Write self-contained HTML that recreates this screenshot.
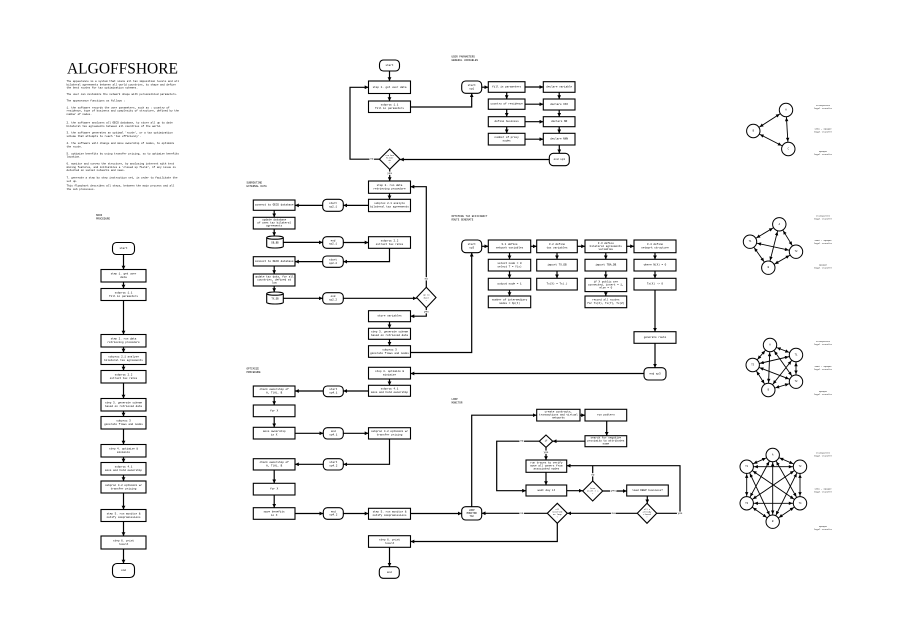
<!DOCTYPE html>
<html><head><meta charset="utf-8"><style>
html,body{margin:0;padding:0;background:#fff;}
svg{display:block}
svg text{font-family:"Liberation Mono","DejaVu Sans Mono",monospace;fill:#000}
</style></head><body>
<svg xmlns="http://www.w3.org/2000/svg" width="899" height="636" viewBox="0 0 899 636">
<defs>
<marker id="a" markerUnits="userSpaceOnUse" viewBox="0 0 10 10" refX="10" refY="5" markerWidth="3.8" markerHeight="3.8" orient="auto"><path d="M0,0L10,5L0,10z" fill="#000"/></marker>
<marker id="g" markerUnits="userSpaceOnUse" viewBox="-12 -3 12 6" refX="0" refY="0" markerWidth="12" markerHeight="6" orient="auto-start-reverse"><path d="M-11.2,-1.7L-7.4,0L-11.2,1.7z" fill="#000"/></marker>
</defs>
<rect width="899" height="636" fill="#fff"/>

<!-- Title & description -->
<text x="67" y="73.5" font-size="16" style="font-family:'Liberation Serif',serif" textLength="111" lengthAdjust="spacingAndGlyphs">ALGOFFSHORE</text>
<g font-size="2.65" dominant-baseline="central">
<text x="66.5" y="81.5">The appearance is a system that scans all tax imposition levels and all</text>
<text x="66.5" y="84.8">bilateral agreements between all world countries, to shape and define</text>
<text x="66.5" y="88.1">the best routes for tax optimization schemes.</text>
<text x="66.5" y="94.5">The user can customize the network shape with personalized parameters.</text>
<text x="66.5" y="101">The appearance functions as follows :</text>
<text x="66.5" y="107.8">1. the software records the user parameters, such as : country of</text>
<text x="66.5" y="111.1">residence, type of business and complexity of structure, defined by the</text>
<text x="66.5" y="114.4">number of nodes.</text>
<text x="66.5" y="123">2. the software analyzes all OECD database, to store all up to date</text>
<text x="66.5" y="126.3">bilateral tax agreements between all countries of the world.</text>
<text x="66.5" y="133.2">3. the software generates an optimal 'route', or a tax optimization</text>
<text x="66.5" y="136.5">scheme that attempts to reach 'tax efficiency'.</text>
<text x="66.5" y="143.7">4. the software will change and move ownership of nodes, to optimize</text>
<text x="66.5" y="147">the route.</text>
<text x="66.5" y="153.8">5. optimize benefits by using transfer pricing, so to optimize benefits</text>
<text x="66.5" y="157.1">location.</text>
<text x="66.5" y="164">6. monitor and survey the structure, by analyzing internet with text</text>
<text x="66.5" y="167.3">mining features, and initializes a 'closed up field', if any issue is</text>
<text x="66.5" y="170.6">detected on social networks and news.</text>
<text x="66.5" y="178">7. generate a step by step instruction set, in order to facilitate the</text>
<text x="66.5" y="181.3">set up.</text>
<text x="66.5" y="186">This flowchart describes all steps, between the main process and all</text>
<text x="66.5" y="189.3">the sub processes.</text>
</g>

<!-- Section headings -->
<g font-size="2.6" dominant-baseline="central">
<text x="96" y="215.5">MAIN</text><text x="96" y="218.8">PROCEDURE</text>
<text x="246.5" y="183">SUBROUTINE</text><text x="246.5" y="186.3">EXTERNAL DATA</text>
<text x="246.5" y="369">OPTIMIZE</text><text x="246.5" y="372.3">PROCEDURE</text>
<text x="451.5" y="57">USER PARAMETERS</text><text x="451.5" y="60.3">GENERAL VARIABLES</text>
<text x="451.5" y="216.5">OPTIMIZE TAX EFFICIENCY</text><text x="451.5" y="219.8">ROUTE GENERATE</text>
<text x="451.5" y="399.5">LOOP</text><text x="451.5" y="402.8">MONITOR</text>
</g>

<!-- Connectors -->
<g fill="none" stroke="#000" stroke-width="1.2" marker-end="url(#a)">
<path d="M123.5 254.5V269.5"/>
<path d="M123.5 282V288.5"/>
<path d="M123.5 300.5V334.5"/>
<path d="M123.5 347V352.5"/>
<path d="M123.5 364.5V370.5"/>
<path d="M123.5 383V398.5"/>
<path d="M123.5 411V416.5"/>
<path d="M123.5 429V444.5"/>
<path d="M123.5 457V462.5"/>
<path d="M123.5 475V481"/>
<path d="M123.5 493V509.5"/>
<path d="M123.5 521.5V536"/>
<path d="M123.5 549V563.5"/>
<path d="M389.5 71V81"/>
<path d="M389.5 93.5V101"/>
<path d="M410.5 107H471.7V93.3"/>
<path d="M379.4 159.2H350V87.3H368.5"/>
<path d="M549.3 159.5H400"/>
<path d="M389.7 169.4V181"/>
<path d="M389.5 193.3V199.3"/>
<path d="M368.5 205.4H343.3"/>
<path d="M322.7 205.4H295"/>
<path d="M274.2 210.3V217.3"/>
<path d="M274.2 229V236"/>
<path d="M283.3 242.4H322.7"/>
<path d="M343.3 242.5H368.5"/>
<path d="M389.5 248.3V261.6H343.3"/>
<path d="M322.7 261.6H295"/>
<path d="M274.2 266V274"/>
<path d="M274.2 286V292"/>
<path d="M283.3 298.3H322.7"/>
<path d="M343.3 298.3H416.6"/>
<path d="M426.3 287.3V186.7H410.5"/>
<path d="M426.3 307.7V316.2H410.5"/>
<path d="M389.5 321.7V328.3"/>
<path d="M389.5 339.3V345.7"/>
<path d="M410.5 352.5H471.7V252.7"/>
<path d="M644 373.5H410.5"/>
<path d="M389.5 379V385.3"/>
<path d="M368.5 391H343.3"/>
<path d="M323.3 391H295"/>
<path d="M274.2 396.7V405"/>
<path d="M274.2 416.7V427.3"/>
<path d="M295 433.3H323.3"/>
<path d="M343.3 433.3H368.5"/>
<path d="M389.5 439V464.3H343.3"/>
<path d="M323.3 464.3H295"/>
<path d="M274.2 470V483.3"/>
<path d="M274.2 495V507.7"/>
<path d="M295 513.5H323.3"/>
<path d="M343.3 513.5H368.5"/>
<path d="M410.5 513.5H461.7"/>
<path d="M557.3 523.3V541.5H410.5"/>
<path d="M389.5 547.3V566.7"/>
<path d="M481.7 87.2H488.3"/>
<path d="M525 87H543.3"/>
<path d="M506.7 92.3V99"/>
<path d="M525 104.2H543.3"/>
<path d="M559.2 92.3V99"/>
<path d="M506.7 109.3V116.7"/>
<path d="M525 121.7H543.3"/>
<path d="M559.2 110V116.7"/>
<path d="M506.7 126.7V133.3"/>
<path d="M525 139.2H543.3"/>
<path d="M559.2 126.7V133.3"/>
<path d="M559.3 145V153.3"/>
<path d="M481.7 246.3H488.3"/>
<path d="M530.7 246.3H536.7"/>
<path d="M577.3 246.3H585"/>
<path d="M626.7 246.3H634"/>
<path d="M509.5 252.7V259.3"/>
<path d="M509.5 271V278.3"/>
<path d="M509.5 290V296"/>
<path d="M557 252.7V259.3"/>
<path d="M557 271V278.3"/>
<path d="M605.8 252.7V259.3"/>
<path d="M605.8 271V278.3"/>
<path d="M605.8 291.6V296"/>
<path d="M655 252.7V259.3"/>
<path d="M655 271V278.3"/>
<path d="M655 290V331.7"/>
<path d="M655 343.3V367.7"/>
<path d="M471.7 506.7V415.2H536.7"/>
<path d="M580 415.2H585"/>
<path d="M606.7 421V435.7"/>
<path d="M585 441.2H552.7"/>
<path d="M539.3 441.2H496.7V490.7H526"/>
<path d="M546 447.4V460"/>
<path d="M546 472.3V485"/>
<path d="M566.7 490.7H582.7"/>
<path d="M656.7 513.3H680V465.7H566.7"/>
<path d="M602.7 491H626.7"/>
<path d="M647.3 496V503.3"/>
<path d="M637.3 513.3H567.3"/>
<path d="M547.3 513.3H481.7"/>
</g>
<g fill="none" stroke="#000" stroke-width="1.2">
<path d="M592.7 481V465.7"/>
</g>

<!-- Shapes -->
<g fill="#fff" stroke="#000" stroke-width="1.1">
<rect x="112.5" y="242.5" width="22" height="12" rx="4"/>
<rect x="101" y="269.5" width="45" height="12.5"/>
<rect x="101" y="288.5" width="45" height="12"/>
<rect x="101" y="334.5" width="45" height="12.5"/>
<rect x="101" y="352.5" width="45" height="12"/>
<rect x="101" y="370.5" width="45" height="12.5"/>
<rect x="101" y="398.5" width="45" height="12.5"/>
<rect x="101" y="416.5" width="45" height="12.5"/>
<rect x="101" y="444.5" width="45" height="12.5"/>
<rect x="101" y="462.5" width="45" height="12.5"/>
<rect x="101" y="481" width="45" height="12"/>
<rect x="101" y="509.5" width="45" height="12"/>
<rect x="101" y="536" width="45" height="13"/>
<rect x="112.5" y="563.5" width="22" height="14" rx="4.5"/>
<rect x="379.5" y="60" width="20" height="11" rx="4"/>
<rect x="368.5" y="81" width="42" height="12.5"/>
<rect x="368.5" y="101" width="42" height="11.5"/>
<polygon points="389.7,149 400,159.2 389.7,169.4 379.4,159.2"/>
<rect x="368.5" y="181" width="42" height="12.3"/>
<rect x="368.5" y="199.3" width="42" height="12.3"/>
<rect x="368.5" y="236.7" width="42" height="11.6"/>
<polygon points="426.3,287.3 436,297.5 426.3,307.7 416.6,297.5"/>
<rect x="368.5" y="310.7" width="42" height="11"/>
<rect x="368.5" y="328.3" width="42" height="11"/>
<rect x="368.5" y="345.7" width="42" height="11.6"/>
<rect x="368.5" y="367.3" width="42" height="11.7"/>
<rect x="368.5" y="385.3" width="42" height="11"/>
<rect x="368.5" y="427.7" width="42" height="11.3"/>
<rect x="368.5" y="508.3" width="42" height="11"/>
<rect x="368.5" y="535.7" width="42" height="11.6"/>
<rect x="379.3" y="566.7" width="20" height="11.6" rx="4"/>
<rect x="322.7" y="199.3" width="20.6" height="12" rx="4"/>
<rect x="322.7" y="236.7" width="20.6" height="11.6" rx="4"/>
<rect x="322.7" y="256" width="20.6" height="11.3" rx="4"/>
<rect x="322.7" y="292.7" width="20.6" height="11.3" rx="4"/>
<rect x="323.3" y="386" width="20" height="10.7" rx="4"/>
<rect x="323.3" y="427.7" width="20" height="11.3" rx="4"/>
<rect x="323.3" y="458.7" width="20" height="11.3" rx="4"/>
<rect x="323.3" y="507.7" width="20" height="11.6" rx="4"/>
<rect x="253.3" y="200" width="41.7" height="10.3"/>
<rect x="253.3" y="217.3" width="41.7" height="11.7"/>
<path d="M266.7 237.6V246.4A8.3 1.6 0 0 0 283.3 246.4V237.6A8.3 1.6 0 0 0 266.7 237.6A8.3 1.6 0 0 0 283.3 237.6"/>
<rect x="253.3" y="256.7" width="41.7" height="9.3"/>
<rect x="253.3" y="274" width="41.7" height="12"/>
<path d="M266.7 293.6V302.4A8.3 1.6 0 0 0 283.3 302.4V293.6A8.3 1.6 0 0 0 266.7 293.6A8.3 1.6 0 0 0 283.3 293.6"/>
<rect x="253.3" y="386" width="41.7" height="10.7"/>
<rect x="253.3" y="405" width="41.7" height="11.7"/>
<rect x="253.3" y="427.3" width="41.7" height="11.7"/>
<rect x="253.3" y="458.7" width="41.7" height="11.3"/>
<rect x="253.3" y="483.3" width="41.7" height="11.7"/>
<rect x="253.3" y="507.7" width="41.7" height="11.6"/>
<rect x="461.7" y="81" width="20" height="12.3" rx="4"/>
<rect x="488.3" y="81.7" width="36.7" height="10.6"/>
<rect x="543.3" y="81.7" width="31.7" height="10.6"/>
<rect x="488.3" y="99" width="36.7" height="10.3"/>
<rect x="543.3" y="99" width="31.7" height="11"/>
<rect x="488.3" y="116.7" width="36.7" height="10"/>
<rect x="543.3" y="116.7" width="31.7" height="10"/>
<rect x="488.3" y="133.3" width="36.7" height="11.7"/>
<rect x="543.3" y="133.3" width="31.7" height="11.7"/>
<rect x="549.3" y="153.3" width="20" height="12.4" rx="4"/>
<rect x="461.7" y="240" width="20" height="12.7" rx="4"/>
<rect x="488.3" y="240" width="42.4" height="12.7"/>
<rect x="536.7" y="240" width="40.6" height="12.7"/>
<rect x="585" y="240" width="41.7" height="12.7"/>
<rect x="634" y="240" width="42" height="12.7"/>
<rect x="488.3" y="259.3" width="42.4" height="11.7"/>
<rect x="488.3" y="278.3" width="42.4" height="11.7"/>
<rect x="488.3" y="296" width="42.4" height="11.7"/>
<rect x="536.7" y="259.3" width="40.6" height="11.7"/>
<rect x="536.7" y="278.3" width="40.6" height="11.7"/>
<rect x="585" y="259.3" width="41.7" height="11.7"/>
<rect x="585" y="278.3" width="41.7" height="13.3"/>
<rect x="585" y="296" width="41.7" height="11.7"/>
<rect x="634" y="259.3" width="42" height="11.7"/>
<rect x="634" y="278.3" width="42" height="11.7"/>
<rect x="634" y="331.7" width="42" height="11.6"/>
<rect x="644" y="367.7" width="22" height="12.3" rx="4"/>
<rect x="461.7" y="506.7" width="20" height="13.3" rx="4"/>
<rect x="536.7" y="409.3" width="43.3" height="11.7"/>
<rect x="585" y="409.3" width="41.7" height="11.7"/>
<rect x="585" y="435.7" width="41.7" height="11"/>
<polygon points="546,435 552.7,441.2 546,447.4 539.3,441.2"/>
<rect x="526" y="460" width="40.7" height="12.3"/>
<rect x="526" y="485" width="40.7" height="11"/>
<polygon points="592.7,481 602.7,491 592.7,501 582.7,491"/>
<rect x="626.7" y="485" width="41.6" height="11"/>
<polygon points="647,503.3 656.7,513.3 647,523.3 637.3,513.3"/>
<polygon points="557.3,503.3 567.3,513.3 557.3,523.3 547.3,513.3"/>
</g>

<!-- Box texts -->
<g font-size="2.7" text-anchor="middle" dominant-baseline="central">
<text x="123.5" y="248.5">start</text>
<text x="123.5" y="274">step 1. get user</text><text x="123.5" y="277.5">data</text>
<text x="123.5" y="292.75">subproc 1.1</text><text x="123.5" y="296.25">fill in parameters</text>
<text x="123.5" y="339">step 2. run data</text><text x="123.5" y="342.5">retrieving procedure</text>
<text x="123.5" y="356.75">subproc 2.1 analyze</text><text x="123.5" y="360.25">bilateral tax agreements</text>
<text x="123.5" y="375">subproc 2.2</text><text x="123.5" y="378.5">extract tax rates</text>
<text x="123.5" y="403">step 3. generate scheme</text><text x="123.5" y="406.5">based on retrieved data</text>
<text x="123.5" y="421">subproc 3</text><text x="123.5" y="424.5">generate flows and nodes</text>
<text x="123.5" y="449">step 4. optimize &amp;</text><text x="123.5" y="452.5">minimize</text>
<text x="123.5" y="467">subproc 4.1</text><text x="123.5" y="470.5">move and hold ownership</text>
<text x="123.5" y="485.25">subproc 4.2 optimize w/</text><text x="123.5" y="488.75">transfer pricing</text>
<text x="123.5" y="513.75">step 5. run monitor &amp;</text><text x="123.5" y="517.25">notify compromissions</text>
<text x="123.5" y="540.75">step 6. print</text><text x="123.5" y="544.25">result</text>
<text x="123.5" y="570.5">end</text>
<text x="389.5" y="65.5">start</text>
<text x="389.5" y="87.25">step 1. get user data</text>
<text x="389.5" y="105">subproc 1.1</text><text x="389.5" y="108.5">fill in parameters</text>
<text x="389.5" y="185.4">step 2. run data</text><text x="389.5" y="188.9">retrieving procedure</text>
<text x="389.5" y="203.7">subproc 2.1 analyze</text><text x="389.5" y="207.2">bilateral tax agreements</text>
<text x="389.5" y="240.75">subproc 2.2</text><text x="389.5" y="244.25">extract tax rates</text>
<text x="389.5" y="316.2">store variables</text>
<text x="389.5" y="332.05">step 3. generate scheme</text><text x="389.5" y="335.55">based on retrieved data</text>
<text x="389.5" y="349.75">subproc 3</text><text x="389.5" y="353.25">generate flows and nodes</text>
<text x="389.5" y="371.4">step 4. optimize &amp;</text><text x="389.5" y="374.9">minimize</text>
<text x="389.5" y="389.05">subproc 4.1</text><text x="389.5" y="392.55">move and hold ownership</text>
<text x="389.5" y="431.6">subproc 4.2 optimize w/</text><text x="389.5" y="435.1">transfer pricing</text>
<text x="389.5" y="512.05">step 5. run monitor &amp;</text><text x="389.5" y="515.55">notify compromissions</text>
<text x="389.5" y="539.75">step 6. print</text><text x="389.5" y="543.25">result</text>
<text x="389.3" y="572.5">end</text>
<text x="333" y="203.6">start</text><text x="333" y="207">sp2.1</text>
<text x="333" y="240.8">end</text><text x="333" y="244.2">sp2.1</text>
<text x="333" y="259.9">start</text><text x="333" y="263.3">sp2.2</text>
<text x="333" y="296.6">end</text><text x="333" y="300">sp2.2</text>
<text x="333.3" y="389.6">start</text><text x="333.3" y="393">sp4.1</text>
<text x="333.3" y="431.6">end</text><text x="333.3" y="435">sp4.1</text>
<text x="333.3" y="462.6">start</text><text x="333.3" y="466">sp4.2</text>
<text x="333.3" y="511.8">end</text><text x="333.3" y="515.2">sp4.2</text>
<text x="274.2" y="205.15">connect to OECD database</text>
<text x="274.2" y="220.2">update database</text><text x="274.2" y="223.15">of ones tax bilateral</text><text x="274.2" y="226.1">agreements</text>
<text x="275" y="243.2" font-size="2.4">DB_BB</text>
<text x="274.2" y="261.35">connect to OECD database</text>
<text x="274.2" y="277">update tax data, for all</text><text x="274.2" y="280">countries, defined at</text><text x="274.2" y="283">low</text>
<text x="275" y="299.2" font-size="2.4">TX_DB</text>
<text x="274.2" y="389.6">check ownership of</text><text x="274.2" y="393.1">A, T(A), B</text>
<text x="274.2" y="410.85">for X</text>
<text x="274.2" y="431.4">move ownership</text><text x="274.2" y="434.9">in X</text>
<text x="274.2" y="462.6">check ownership of</text><text x="274.2" y="466.1">A, T(A), B</text>
<text x="274.2" y="489.15">for X</text>
<text x="274.2" y="511.75">move benefits</text><text x="274.2" y="515.25">in X</text>
<text x="471.7" y="85.5">start</text><text x="471.7" y="88.9">sp1</text>
<text x="506.65" y="87">fill in parameters</text>
<text x="559.15" y="87">declare variable</text>
<text x="506.65" y="104.15">country of residence</text>
<text x="559.15" y="104.5">declare XXX</text>
<text x="506.65" y="121.7">define business</text>
<text x="559.15" y="121.7">declare NN</text>
<text x="506.65" y="137.4">number of proxy</text><text x="506.65" y="140.9">nodes</text>
<text x="559.15" y="139.15">declare NNN</text>
<text x="559.3" y="159.5">end sp1</text>
<text x="471.7" y="244.6">start</text><text x="471.7" y="248">sp3</text>
<text x="509.5" y="244.6">3.1 define</text><text x="509.5" y="248">network variables</text>
<text x="557" y="244.6">3.2 define</text><text x="557" y="248">tax variables</text>
<text x="605.8" y="243.3">3.3 define</text><text x="605.8" y="246.3">bilateral agreements</text><text x="605.8" y="249.3">variables</text>
<text x="655" y="244.6">3.4 define</text><text x="655" y="248">network structure</text>
<text x="509.5" y="263.4">select node = 0</text><text x="509.5" y="266.9">select T = Y(x)</text>
<text x="509.5" y="284.15">output node = 1</text>
<text x="509.5" y="300.1">number of intermediary</text><text x="509.5" y="303.6">nodes = Xp(t)</text>
<text x="557" y="265.15">import TX_DB</text>
<text x="557" y="284.15">Tx(X) = Tx(.)</text>
<text x="605.8" y="265.15">import TBA_DB</text>
<text x="605.8" y="281.95">if X public are</text><text x="605.8" y="284.95">connected, insert = 1,</text><text x="605.8" y="287.95">else = 0</text>
<text x="605.8" y="300.1">record all routes</text><text x="605.8" y="303.6">for Tx(X), Tx(Y), Tx(Z)</text>
<text x="655" y="265.15">where N(X) = 0</text>
<text x="655" y="284.15">Tx(X) -&gt; 0</text>
<text x="655" y="337.5">generate route</text>
<text x="655" y="373.85">end sp3</text>
<text x="471.7" y="510.3" font-size="2.4">LOOP</text><text x="471.7" y="513.3" font-size="2.4">MONITOR</text><text x="471.7" y="516.3" font-size="2.4">TAX</text>
<text x="558.35" y="412.2">create contracts,</text><text x="558.35" y="415.15">transactions and virtual</text><text x="558.35" y="418.1">networks</text>
<text x="605.85" y="415.15">run pattern</text>
<text x="605.85" y="438.2">search for negative</text><text x="605.85" y="441.2">proximity to attributes</text><text x="605.85" y="444.2">name</text>
<text x="546" y="441.2" font-size="2.3">if</text>
<text x="546.35" y="463.2">run traces to verify</text><text x="546.35" y="466.15">move all owners from</text><text x="546.35" y="469.1">associated nodes</text>
<text x="546.35" y="490.5">wait day it</text>
<text x="592.7" y="488.3" font-size="2.2">have</text><text x="592.7" y="491" font-size="2.2">still &gt; 1</text><text x="592.7" y="493.7" font-size="2.2">?</text>
<text x="647.5" y="490.5">load DEEP business?</text>
<text x="647" y="509.3" font-size="2.1">all X</text><text x="647" y="511.9" font-size="2.1">already</text><text x="647" y="514.5" font-size="2.1">closed</text><text x="647" y="517.1" font-size="2.1">?</text>
<text x="557.3" y="509.3" font-size="2.1">all</text><text x="557.3" y="511.9" font-size="2.1">notified</text><text x="557.3" y="514.5" font-size="2.1">no loop</text><text x="557.3" y="517.1" font-size="2.1">?</text>
<text x="389.7" y="155.3" font-size="2.1">run bus</text><text x="389.7" y="157.9" font-size="2.1">filter</text><text x="389.7" y="160.5" font-size="2.1">ok</text><text x="389.7" y="163.1" font-size="2.1">?</text>
<text x="426.3" y="295.2" font-size="2.2">up to</text><text x="426.3" y="297.9" font-size="2.2">date</text><text x="426.3" y="300.6" font-size="2.2">?</text>
</g>

<g font-size="2.7" text-anchor="middle" dominant-baseline="central" stroke="#fff" stroke-width="1.8" paint-order="stroke">
<text x="371.7" y="159.2">no</text>
<text x="389.7" y="173.7">yes</text>
<text x="426.3" y="279">no</text>
<text x="426.3" y="312">yes</text>
<text x="521.7" y="441.2">no</text>
<text x="546" y="452.5">yes</text>
<text x="592.7" y="475">no</text>
<text x="613.3" y="491">yes</text>
<text x="680" y="513.3">yes</text>
<text x="613.3" y="513.3">no</text>
<text x="521.7" y="513.3">no</text>
</g>

<!-- Graphs -->
<g stroke="#000" stroke-width="0.9" fill="none" marker-start="url(#g)" marker-end="url(#g)">
<line x1="786" y1="110" x2="753.3" y2="131"/>
<line x1="786" y1="110" x2="788.3" y2="149"/>
<line x1="753.3" y1="131" x2="788.3" y2="149"/>
<line x1="779.3" y1="224.3" x2="750" y2="241.7"/>
<line x1="779.3" y1="224.3" x2="796" y2="251.7"/>
<line x1="750" y1="241.7" x2="796" y2="251.7"/>
<line x1="779.3" y1="224.3" x2="768.3" y2="267.7"/>
<line x1="750" y1="241.7" x2="768.3" y2="267.7"/>
<line x1="796" y1="251.7" x2="768.3" y2="267.7"/>
<line x1="770" y1="345" x2="796" y2="355"/>
<line x1="770" y1="345" x2="752.7" y2="365"/>
<line x1="770" y1="345" x2="796" y2="381.7"/>
<line x1="770" y1="345" x2="768.3" y2="390"/>
<line x1="796" y1="355" x2="752.7" y2="365"/>
<line x1="796" y1="355" x2="796" y2="381.7"/>
<line x1="796" y1="355" x2="768.3" y2="390"/>
<line x1="752.7" y1="365" x2="796" y2="381.7"/>
<line x1="752.7" y1="365" x2="768.3" y2="390"/>
<line x1="796" y1="381.7" x2="768.3" y2="390"/>
<line x1="772.7" y1="455" x2="746.7" y2="466.7"/>
<line x1="772.7" y1="455" x2="800" y2="466.7"/>
<line x1="772.7" y1="455" x2="746.7" y2="503.3"/>
<line x1="772.7" y1="455" x2="800" y2="503.3"/>
<line x1="772.7" y1="455" x2="772.7" y2="521.7"/>
<line x1="746.7" y1="466.7" x2="800" y2="466.7"/>
<line x1="746.7" y1="466.7" x2="746.7" y2="503.3"/>
<line x1="746.7" y1="466.7" x2="800" y2="503.3"/>
<line x1="746.7" y1="466.7" x2="772.7" y2="521.7"/>
<line x1="800" y1="466.7" x2="746.7" y2="503.3"/>
<line x1="800" y1="466.7" x2="800" y2="503.3"/>
<line x1="800" y1="466.7" x2="772.7" y2="521.7"/>
<line x1="746.7" y1="503.3" x2="800" y2="503.3"/>
<line x1="746.7" y1="503.3" x2="772.7" y2="521.7"/>
<line x1="800" y1="503.3" x2="772.7" y2="521.7"/>
</g>
<g fill="#fff" stroke="#000" stroke-width="1">
<circle cx="786" cy="110" r="6.7"/><circle cx="753.3" cy="131" r="6.7"/><circle cx="788.3" cy="149" r="6.7"/>
<circle cx="779.3" cy="224.3" r="6.7"/><circle cx="750" cy="241.7" r="6.7"/><circle cx="796" cy="251.7" r="6.7"/><circle cx="768.3" cy="267.7" r="6.7"/>
<circle cx="770" cy="345" r="6.7"/><circle cx="796" cy="355" r="6.7"/><circle cx="752.7" cy="365" r="6.7"/><circle cx="796" cy="381.7" r="6.7"/><circle cx="768.3" cy="390" r="6.7"/>
<circle cx="772.7" cy="455" r="6.7"/><circle cx="746.7" cy="466.7" r="6.7"/><circle cx="800" cy="466.7" r="6.7"/><circle cx="746.7" cy="503.3" r="6.7"/><circle cx="800" cy="503.3" r="6.7"/><circle cx="772.7" cy="521.7" r="6.7"/>
</g>
<g font-size="2.4" text-anchor="middle" dominant-baseline="central">
<text x="786" y="110">A</text><text x="753.3" y="131">B</text><text x="788.3" y="149">C</text>
<text x="779.3" y="224.3">A</text><text x="750" y="241.7">T1</text><text x="796" y="251.7">T2</text><text x="768.3" y="267.7">B</text>
<text x="770" y="345">A</text><text x="796" y="355">T1</text><text x="752.7" y="365">T3</text><text x="796" y="381.7">T2</text><text x="768.3" y="390">B</text>
<text x="772.7" y="455">A</text><text x="746.7" y="466.7">T1</text><text x="800" y="466.7">T2</text><text x="746.7" y="503.3">T3</text><text x="800" y="503.3">T4</text><text x="772.7" y="521.7">B</text>
</g>
<g font-size="2.2" text-anchor="middle" dominant-baseline="central">
<text x="823" y="105.5">transparent</text><text x="823" y="108.3">legal transfer</text>
<text x="823" y="129">semi - opaque</text><text x="823" y="131.8">legal transfer</text>
<text x="823" y="151.5">opaque</text><text x="823" y="154.3">legal transfer</text>
<text x="823" y="216">transparent</text><text x="823" y="218.8">legal transfer</text>
<text x="823" y="240.5">semi - opaque</text><text x="823" y="243.3">legal transfer</text>
<text x="823" y="265">opaque</text><text x="823" y="267.8">legal transfer</text>
<text x="823" y="341.5">transparent</text><text x="823" y="344.3">legal transfer</text>
<text x="823" y="366.5">semi - opaque</text><text x="823" y="369.3">legal transfer</text>
<text x="823" y="391.5">opaque</text><text x="823" y="394.3">legal transfer</text>
<text x="823" y="453">transparent</text><text x="823" y="455.8">legal transfer</text>
<text x="823" y="489">semi - opaque</text><text x="823" y="491.8">legal transfer</text>
<text x="823" y="526.5">opaque</text><text x="823" y="529.3">legal transfer</text>
</g>
</svg>
</body></html>
